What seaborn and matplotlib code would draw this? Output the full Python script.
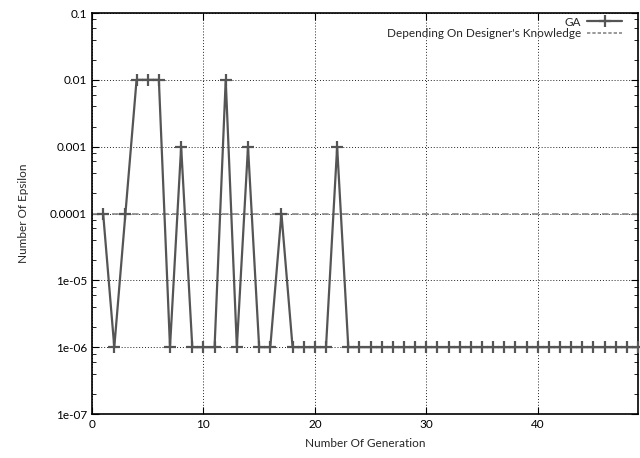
import matplotlib
matplotlib.use("Agg")
import matplotlib.pyplot as plt
import seaborn as sns
import pandas as pd
import numpy as np
from matplotlib.ticker import LogLocator, FixedLocator, NullFormatter
from matplotlib.lines import Line2D

generation = list(range(1, 50))
ga_values = [1e-4, 1e-6, 1e-4, 1e-2, 1e-2, 1e-2, 1e-6, 1e-3, 1e-6, 1e-6,
             1e-6, 1e-2, 1e-6, 1e-3, 1e-6, 1e-6, 1e-4, 1e-6, 1e-6, 1e-6,
             1e-6, 1e-3, 1e-6] + [1e-6] * 26
designer_value = 1e-4
y_ticks = [1e-7, 1e-6, 1e-5, 1e-4, 1e-3, 1e-2, 1e-1]
y_labels = ["1e-07", "1e-06", "1e-05", "0.0001", "0.001", "0.01", "0.1"]
x_ticks = [0, 10, 20, 30, 40]

sns.set_style("ticks")
plt.rcParams['font.family'] = ['Lato', 'DejaVu Sans']

df = pd.DataFrame({"gen": generation, "eps": ga_values})

fig = plt.figure(figsize=(6.4, 4.58), dpi=100)
ax = fig.add_axes([92/640, 1 - 414/458, (638-92)/640, (414-13)/458])

ax.set_yscale("log")
ga_color = "#555555"
ref_color = "#888888"
ax.axhline(designer_value, color=ref_color, linestyle=(0, (4, 2)), linewidth=1.2, zorder=2)
sns.lineplot(data=df, x="gen", y="eps", ax=ax, color=ga_color, linewidth=1.6,
             marker="+", markersize=8.5, markeredgewidth=1.6, markeredgecolor=ga_color,
             legend=False, zorder=3)
for ln in ax.lines:
    ln.set_clip_on(False)

ax.set_xlim(0, 49)
ax.set_ylim(1e-7, 0.1)
ax.xaxis.set_major_locator(FixedLocator(x_ticks))
ax.yaxis.set_major_locator(FixedLocator(y_ticks))
ax.set_yticklabels(y_labels)
ax.yaxis.set_minor_locator(LogLocator(base=10, subs=[2, 4, 6, 8], numticks=20))
ax.yaxis.set_minor_formatter(NullFormatter())
ax.grid(True, which="major", color="#222222", linestyle=(0, (1, 2)), linewidth=0.7)
ax.tick_params(which="both", direction="in", top=True, right=True, labelsize=8.5,
               colors="black")
ax.tick_params(which="major", length=5)
ax.tick_params(which="minor", length=3)
for s in ax.spines.values():
    s.set_linewidth(1.2)
    s.set_color("black")

ax.set_xlabel("Number Of Generation", fontsize=8.5, labelpad=6)
ax.set_ylabel("Number Of Epsilon", fontsize=8.5, labelpad=15)

handles = [Line2D([], [], color=ga_color, linewidth=1.6, marker="+", markersize=8.5,
                  markeredgewidth=1.6),
           Line2D([], [], color=ref_color, linewidth=1.2, linestyle=(0, (2, 1.2)))]
labels = ["GA", "Depending On Designer's Knowledge"]
leg = ax.legend(handles, labels, loc="upper right", bbox_to_anchor=(1 - 12/546, 1.0),
                frameon=False, markerfirst=False,
                fontsize=8.5, handlelength=3.0, borderaxespad=0.0, labelspacing=0.05,
                handletextpad=0.5, borderpad=0.3)

fig.savefig("out.png", dpi=100)
